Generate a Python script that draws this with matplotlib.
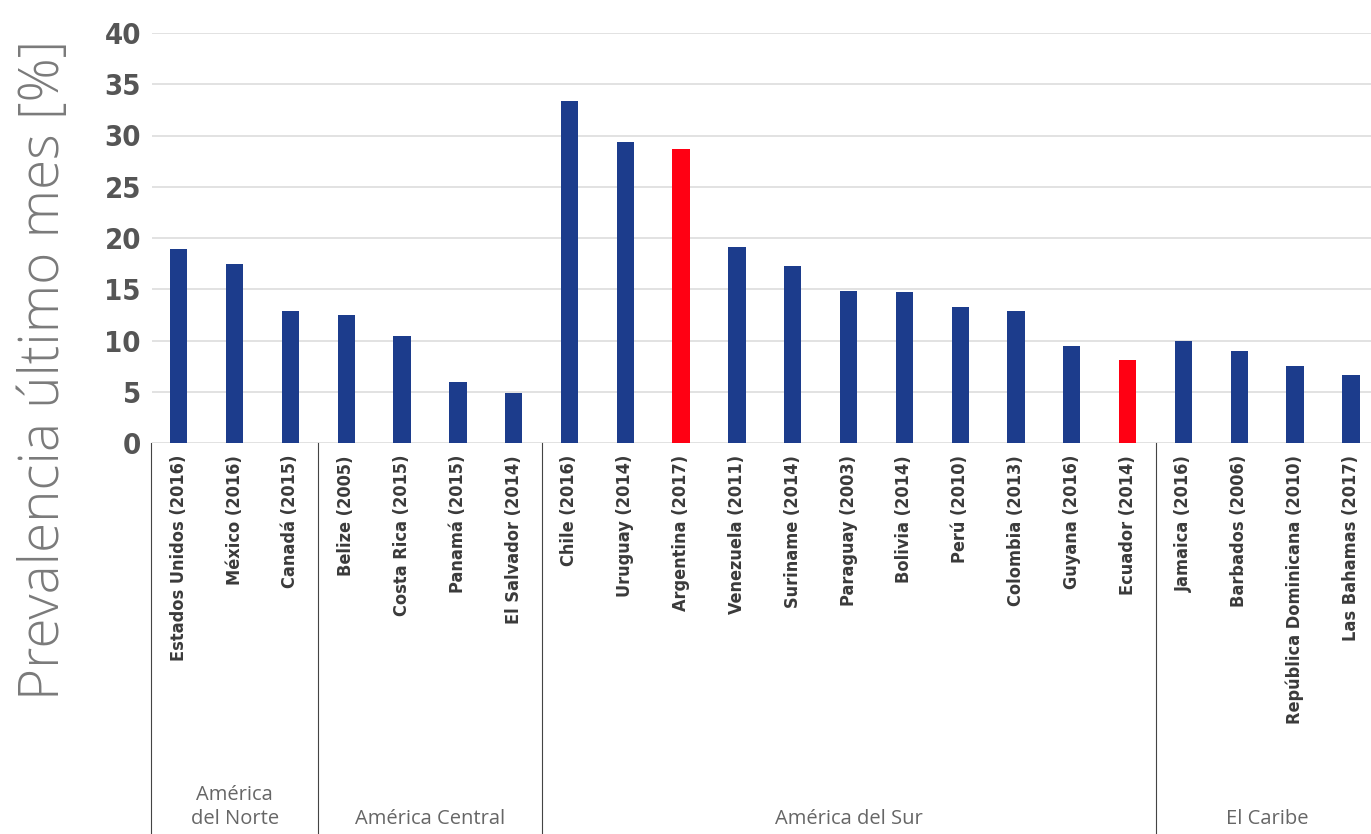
import matplotlib
matplotlib.use("Agg")
import matplotlib.pyplot as plt
import matplotlib.transforms as mtransforms

countries = ["Estados Unidos (2016)", "México (2016)", "Canadá (2015)",
             "Belize (2005)", "Costa Rica (2015)", "Panamá (2015)", "El Salvador (2014)",
             "Chile (2016)", "Uruguay (2014)", "Argentina (2017)", "Venezuela (2011)",
             "Suriname (2014)", "Paraguay (2003)", "Bolivia (2014)", "Perú (2010)",
             "Colombia (2013)", "Guyana (2016)", "Ecuador (2014)",
             "Jamaica (2016)", "Barbados (2006)", "República Dominicana (2010)", "Las Bahamas (2017)"]
values = [18.9, 17.5, 12.9,
          12.5, 10.4, 6.0, 4.9,
          33.4, 29.4, 28.7, 19.1, 17.3, 14.8, 14.7, 13.3, 12.9, 9.5, 8.1,
          10.0, 9.0, 7.5, 6.6]
highlight = ["Argentina (2017)", "Ecuador (2014)"]
regions = ["América\ndel Norte", "América Central", "América del Sur", "El Caribe"]
region_sizes = [3, 4, 11, 4]
yticks = [0, 5, 10, 15, 20, 25, 30, 35, 40]

blue = "#1c3c8c"
red = "#ff0013"

W, H = 1371, 834
fig = plt.figure(figsize=(W / 100, H / 100), dpi=100)
ax_left, ax_right, ax_top, ax_bottom = 152, 1371, 33, 443
ax = fig.add_axes([ax_left / W, (H - ax_bottom) / H, (ax_right - ax_left) / W, (ax_bottom - ax_top) / H])

x = list(range(len(countries)))
colors = [red if c in highlight else blue for c in countries]
ax.bar(x, values, width=0.31, color=colors, zorder=3)

ax.set_ylim(0, 40)
ax.set_xlim(-0.48, 21.36)
ax.set_yticks(yticks)
ax.set_yticklabels([str(t) for t in yticks], fontsize=21, fontweight="bold",
                   color="#555555", fontstretch="condensed")
ax.tick_params(axis="y", length=0, pad=8)
ax.tick_params(axis="x", length=0)
ax.set_xticks([])
ax.yaxis.grid(True, color="#dddddd", linewidth=1.2, zorder=0)
for s in ax.spines.values():
    s.set_visible(False)

fig.text(45 / W, 1 - 370 / H, "Prevalencia último mes [%]", rotation=90, ha="center", va="center",
         fontsize=39.5, color="#7a7a7a", fontweight="light", family=["Open Sans", "DejaVu Sans"])

trans = mtransforms.blended_transform_factory(ax.transData, ax.transAxes)
axh = ax_bottom - ax_top
bottom_axes = -(H - ax_bottom) / axh

for xi, name in zip(x, countries):
    ax.text(xi, -12 / axh, name, transform=trans, rotation=90,
            ha="center", va="top", fontsize=13, fontweight="bold", color="#3a3a3a",
            fontstretch="condensed")

start = 0
seps = [-0.5]
for r, n in zip(regions, region_sizes):
    end = start + n
    seps.append(end - 0.5)
    cx = (start + end - 1) / 2
    ax.text(cx, bottom_axes + 5 / axh, r, transform=trans, ha="center", va="bottom",
            fontsize=14.5, color="#666666", linespacing=1.3,
            family=["Open Sans", "DejaVu Sans"])
    start = end

for s in seps[:-1]:
    ax.plot([s, s], [0, bottom_axes], transform=trans, color="#444444", linewidth=0.8, clip_on=False)

fig.savefig("out.png", dpi=100, facecolor="white")
